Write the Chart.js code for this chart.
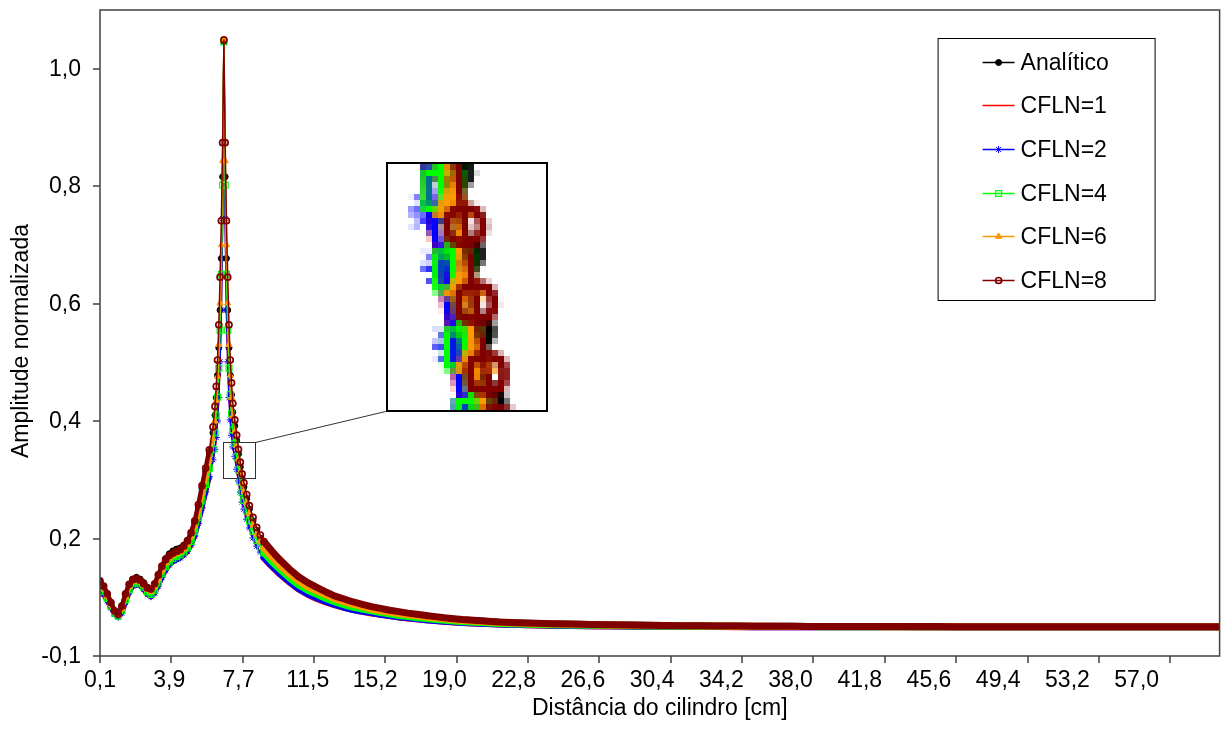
<!DOCTYPE html>
<html>
<head>
<meta charset="utf-8">
<script src="https://cdn.jsdelivr.net/npm/chart.js@4.4.1/dist/chart.umd.min.js"></script>
<style>
html,body{margin:0;padding:0;background:#fff;overflow:hidden;}
#wrap{width:1225px;height:746px;position:relative;}
</style>
</head>
<body>
<div id="wrap"><canvas id="c" width="1225" height="746"></canvas></div>
<script>
// ---------------- DATA ----------------
const distances = [
  0.1,0.3,0.5,0.7,0.9,1.1,1.3,1.5,1.7,1.9,2.1,2.3,2.5,2.7,2.9,3.1,3.3,3.5,3.7,3.9,4.1,4.3,4.5,4.7,4.9,5.1,5.3,5.5,5.7,5.9,6.1,6.3,
  6.41,6.48,6.55,6.62,6.69,6.76,6.83,6.9,6.97,7.04,7.11,7.18,7.25,7.32,7.39,
  7.5,7.6,7.7,7.8,7.9,8.0,8.15,8.3,8.5,8.7,8.9,9.1,
  9.5,10,10.5,11,11.5,12,12.5,13,13.5,14,14.5,15,15.5,16,16.5,17,17.5,18,18.5,19,19.5,20,
  21,22,23,24,25,26,27,28,29,30,31,32,33,34,35,36,37,38,39,40,
  41,42,43,44,45,46,47,48,49,50,51,52,53,54,55,56,57,58,59,60,61,62
];

const analitico = [
  0.127,0.119,0.106,0.091,0.077,0.070,0.084,0.105,0.122,0.131,0.134,0.131,0.125,0.117,0.114,0.122,0.137,0.153,0.166,0.174,0.179,0.182,0.184,0.189,0.197,0.209,0.228,0.254,0.285,0.314,0.344,0.380,
  0.410,0.440,0.478,0.525,0.589,0.677,0.816,1.046,0.816,0.677,0.589,0.525,0.478,0.445,0.415,
  0.392,0.367,0.344,0.322,0.302,0.288,0.268,0.250,0.230,0.214,0.201,0.190,
  0.176,0.159,0.145,0.132,0.122,0.114,0.107,0.100,0.095,0.090,0.086,0.082,0.079,0.0765,0.074,0.0716,0.0696,0.0677,0.0659,0.0641,0.0627,0.0613,
  0.0594,0.0576,0.0564,0.0554,0.0546,0.0540,0.0535,0.0530,0.0526,0.0522,0.0519,0.0516,0.0513,0.0511,0.0509,0.0507,0.0506,0.0505,0.0504,0.0503,
  0.0502,0.0501,0.0501,0.0501,0.0500,0.0500,0.0500,0.0500,0.0500,0.0500,0.0500,0.0500,0.0500,0.0500,0.0500,0.0500,0.0500,0.0500,0.0500,0.0500,0.0500,0.0500
];

const cfln1 = [
  0.111,0.104,0.093,0.081,0.071,0.066,0.072,0.090,0.107,0.118,0.121,0.119,0.112,0.104,0.100,0.106,0.118,0.133,0.145,0.154,0.160,0.163,0.166,0.171,0.177,0.188,0.203,0.225,0.250,0.277,0.303,0.332,
  0.350,0.370,0.398,0.437,0.497,0.585,0.740,1.043,0.740,0.585,0.497,0.437,0.400,0.374,0.354,
  0.338,0.316,0.296,0.277,0.260,0.248,0.231,0.216,0.199,0.186,0.176,0.167,
  0.154,0.139,0.126,0.114,0.105,0.098,0.092,0.087,0.083,0.079,0.076,0.073,0.071,0.069,0.0665,0.0647,0.0632,0.0617,0.0603,0.0591,0.0580,0.0570,
  0.0556,0.0545,0.0536,0.0529,0.0523,0.0519,0.0515,0.0512,0.0509,0.0507,0.0505,0.0504,0.0502,0.0501,0.0500,0.0500,0.0499,0.0499,0.0498,0.0498,
  0.0497,0.0497,0.0497,0.0496,0.0496,0.0496,0.0496,0.0496,0.0496,0.0496,0.0496,0.0496,0.0496,0.0496,0.0496,0.0496,0.0496,0.0496,0.0496,0.0496,0.0496,0.0496
];

const cfln2 = [
  0.112,0.105,0.094,0.082,0.071,0.066,0.073,0.091,0.108,0.119,0.122,0.120,0.113,0.105,0.101,0.107,0.119,0.134,0.146,0.155,0.161,0.164,0.167,0.172,0.178,0.189,0.204,0.226,0.252,0.279,0.305,0.334,
  0.352,0.372,0.400,0.440,0.501,0.589,0.745,1.044,0.745,0.589,0.501,0.440,0.402,0.376,0.356,
  0.340,0.318,0.298,0.279,0.262,0.250,0.233,0.218,0.201,0.187,0.177,0.168,
  0.155,0.140,0.127,0.115,0.106,0.099,0.093,0.088,0.083,0.079,0.076,0.074,0.071,0.069,0.0668,0.0650,0.0634,0.0619,0.0605,0.0593,0.0582,0.0572,
  0.0558,0.0546,0.0537,0.0530,0.0524,0.0520,0.0516,0.0513,0.0510,0.0508,0.0506,0.0504,0.0503,0.0502,0.0501,0.0500,0.0500,0.0499,0.0499,0.0498,
  0.0498,0.0497,0.0497,0.0497,0.0496,0.0496,0.0496,0.0496,0.0496,0.0496,0.0496,0.0496,0.0496,0.0496,0.0496,0.0496,0.0496,0.0496,0.0496,0.0496,0.0496,0.0496
];

const cfln4 = [
  0.118,0.110,0.098,0.085,0.073,0.068,0.077,0.096,0.113,0.123,0.126,0.123,0.117,0.109,0.105,0.112,0.125,0.140,0.152,0.160,0.166,0.169,0.172,0.177,0.184,0.195,0.212,0.236,0.264,0.292,0.320,0.352,
  0.380,0.410,0.441,0.490,0.555,0.650,0.802,1.046,0.802,0.650,0.555,0.490,0.445,0.413,0.385,
  0.362,0.339,0.317,0.297,0.278,0.265,0.247,0.230,0.212,0.197,0.186,0.176,
  0.162,0.147,0.133,0.121,0.112,0.105,0.098,0.092,0.087,0.083,0.080,0.077,0.074,0.0715,0.069,0.0670,0.0653,0.0637,0.0622,0.0608,0.0596,0.0585,
  0.0569,0.0555,0.0545,0.0537,0.0531,0.0526,0.0522,0.0518,0.0515,0.0512,0.0510,0.0508,0.0506,0.0505,0.0504,0.0503,0.0502,0.0501,0.0501,0.0500,
  0.0499,0.0499,0.0498,0.0498,0.0498,0.0497,0.0497,0.0497,0.0497,0.0497,0.0497,0.0497,0.0497,0.0497,0.0497,0.0497,0.0497,0.0497,0.0497,0.0497,0.0497,0.0497
];

const cfln6 = [
  0.123,0.115,0.102,0.088,0.075,0.069,0.081,0.101,0.118,0.127,0.129,0.126,0.120,0.113,0.110,0.118,0.132,0.147,0.159,0.166,0.171,0.174,0.177,0.182,0.190,0.203,0.221,0.247,0.277,0.306,0.335,0.370,
  0.400,0.435,0.476,0.530,0.601,0.700,0.843,1.048,0.843,0.700,0.601,0.530,0.478,0.440,0.408,
  0.383,0.358,0.335,0.314,0.294,0.280,0.261,0.242,0.223,0.207,0.195,0.184,
  0.170,0.154,0.140,0.128,0.118,0.111,0.104,0.097,0.092,0.088,0.084,0.080,0.077,0.075,0.0725,0.0702,0.0683,0.0665,0.0648,0.0632,0.0618,0.0605,
  0.0587,0.0570,0.0559,0.0550,0.0543,0.0537,0.0532,0.0527,0.0524,0.0520,0.0517,0.0514,0.0512,0.0510,0.0508,0.0506,0.0505,0.0504,0.0503,0.0502,
  0.0501,0.0501,0.0500,0.0500,0.0500,0.0500,0.0499,0.0499,0.0499,0.0499,0.0499,0.0499,0.0499,0.0499,0.0499,0.0499,0.0499,0.0499,0.0499,0.0499,0.0499,0.0499
];

const cfln8 = [
  0.128,0.119,0.106,0.091,0.077,0.071,0.085,0.106,0.122,0.130,0.132,0.129,0.123,0.116,0.114,0.123,0.138,0.153,0.164,0.171,0.175,0.178,0.181,0.187,0.196,0.210,0.230,0.258,0.290,0.320,0.351,0.390,
  0.425,0.459,0.504,0.564,0.645,0.741,0.874,1.049,0.874,0.741,0.645,0.564,0.504,0.465,0.430,
  0.402,0.376,0.352,0.330,0.310,0.295,0.275,0.256,0.236,0.219,0.206,0.195,
  0.180,0.163,0.148,0.135,0.125,0.117,0.109,0.102,0.097,0.092,0.088,0.084,0.081,0.078,0.0755,0.073,0.071,0.069,0.067,0.065,0.0635,0.062,
  0.0600,0.0580,0.0568,0.0558,0.0550,0.0543,0.0537,0.0532,0.0528,0.0524,0.0520,0.0517,0.0514,0.0512,0.0510,0.0508,0.0506,0.0505,0.0504,0.0503,
  0.0502,0.0502,0.0501,0.0501,0.0501,0.0501,0.0500,0.0500,0.0500,0.0500,0.0500,0.0500,0.0500,0.0500,0.0500,0.0500,0.0500,0.0500,0.0500,0.0500,0.0500,0.0500
];

const seriesNames = ['Analítico','CFLN=1','CFLN=2','CFLN=4','CFLN=6','CFLN=8'];
const yTickValues = [0, 0.2, 0.4, 0.6, 0.8, 1.0];
const yTickLabels = ['-0,1','0,2','0,4','0,6','0,8','1,0'];
const xTickLabels = ['0,1','3,9','7,7','11,5','15,2','19,0','22,8','26,6','30,4','34,2','38,0','41,8','45,6','49,4','53,2','57,0'];
const xTitle = 'Distância do cilindro [cm]';
const yTitle = 'Amplitude normalizada';

// ---------------- STYLE / LAYOUT ----------------
const X_MIN = 0.1, X_MAX = 61.55, Y_MIN = 0, Y_MAX = 1.1;
const X_TICK_MARK_STEP = 3.916;
const WING_UNTIL = 6.2;         // dense markers merge into a band on the left wing
const BAND_FROM = 9.1;          // beyond this the dense markers merge into a solid band
const ZOOM_X = [6.85, 8.59], ZOOM_Y = [0.304, 0.365];
const INSET_X = [15.87, 24.63], INSET_Y = [0.417, 0.839];
const FONT = '23px "Liberation Sans", Arial, sans-serif';

const styles = [
  {color:'#000000', point:'circle',   r:3,   fill:'#000000',        lw:1},
  {color:'#FF0000', point:null,       r:0,   fill:'#FF0000',        lw:1},
  {color:'#0000FF', point:'star',     r:3.5, fill:'#0000FF',        lw:1},
  {color:'#00FF00', point:'rect',     r:4.2, fill:'rgba(0,0,0,0)',  lw:1.2},
  {color:'#FF9900', point:'triangle', r:3.6, fill:'#FF9900',        lw:1},
  {color:'#800000', point:'circle',   r:3.0, fill:'rgba(0,0,0,0)',  lw:1.7}
];
const seriesValues = [analitico, cfln1, cfln2, cfln4, cfln6, cfln8];

const datasets = seriesNames.map((name, i) => ({
  label: name,
  data: distances.map((d, j) => ({x: d, y: seriesValues[i][j]})),
  borderColor: styles[i].color,
  backgroundColor: styles[i].color,
  borderWidth: 1.5,
  borderJoinStyle: 'round',
  borderCapStyle: 'round',
  tension: 0,
  fill: false,
  pointStyle: styles[i].point || 'circle',
  pointRadius: ctx => (styles[i].r && (!ctx.parsed || ctx.parsed.x <= BAND_FROM)) ? styles[i].r : 0,
  pointHoverRadius: 0,
  pointBackgroundColor: styles[i].fill,
  pointBorderColor: styles[i].color,
  pointBorderWidth: styles[i].lw,
  order: seriesNames.length - 1 - i,
  segment: {
    borderWidth: ctx => ctx.p0.parsed.x >= BAND_FROM ? 7 : (ctx.p1.parsed.x <= WING_UNTIL ? 4.5 : undefined)
  }
}));

function drawMarker(ctx, st, x, y) {
  if (!st.point) return;
  const r = st.r;
  ctx.save();
  ctx.lineWidth = st.lw; ctx.strokeStyle = st.color; ctx.fillStyle = st.fill;
  ctx.beginPath();
  if (st.point === 'circle') {
    ctx.arc(x, y, r, 0, Math.PI * 2); ctx.fill(); ctx.stroke();
  } else if (st.point === 'rect') {
    const s = r * Math.SQRT1_2; ctx.rect(x - s, y - s, 2 * s, 2 * s); ctx.fill(); ctx.stroke();
  } else if (st.point === 'triangle') {
    ctx.moveTo(x, y - r);
    ctx.lineTo(x + r * Math.sin(2 * Math.PI / 3), y - r * Math.cos(2 * Math.PI / 3));
    ctx.lineTo(x + r * Math.sin(4 * Math.PI / 3), y - r * Math.cos(4 * Math.PI / 3));
    ctx.closePath(); ctx.fill(); ctx.stroke();
  } else if (st.point === 'star') {
    for (let k = 0; k < 4; k++) {
      const a = k * Math.PI / 4;
      ctx.moveTo(x - r * Math.cos(a), y - r * Math.sin(a));
      ctx.lineTo(x + r * Math.cos(a), y + r * Math.sin(a));
    }
    ctx.stroke();
  }
  ctx.restore();
}

const deco = {
  id: 'deco',
  beforeDraw(chart) {
    const c = chart.ctx;
    c.save(); c.fillStyle = '#ffffff'; c.fillRect(0, 0, chart.width, chart.height); c.restore();
  },
  afterDatasetsDraw(chart) {
    const ctx = chart.ctx, xs = chart.scales.x, ys = chart.scales.y;
    const zx0 = xs.getPixelForValue(ZOOM_X[0]), zx1 = xs.getPixelForValue(ZOOM_X[1]);
    const zy0 = ys.getPixelForValue(ZOOM_Y[1]), zy1 = ys.getPixelForValue(ZOOM_Y[0]);
    const ix0 = xs.getPixelForValue(INSET_X[0]), ix1 = xs.getPixelForValue(INSET_X[1]);
    const iy0 = ys.getPixelForValue(INSET_Y[1]), iy1 = ys.getPixelForValue(INSET_Y[0]);
    const dw = ix1 - ix0, dh = iy1 - iy0, M = 6;
    const sw = dw / M, sh = dh / M;
    const cx = (zx0 + zx1) / 2, cy = (zy0 + zy1) / 2;
    const off = document.createElement('canvas');
    off.width = chart.canvas.width; off.height = chart.canvas.height;
    off.getContext('2d').drawImage(chart.canvas, 0, 0);
    ctx.save();
    ctx.fillStyle = '#ffffff';
    ctx.fillRect(ix0, iy0, dw, dh);
    ctx.imageSmoothingEnabled = false;
    ctx.drawImage(off, cx - sw / 2, cy - sh / 2, sw, sh, ix0, iy0, dw, dh);
    ctx.imageSmoothingEnabled = true;
    ctx.strokeStyle = '#333333'; ctx.lineWidth = 1;
    ctx.strokeRect(Math.round(zx0) + 0.5, Math.round(zy0) + 0.5, Math.round(zx1 - zx0), Math.round(zy1 - zy0));
    ctx.beginPath();
    ctx.moveTo(Math.round(zx1) + 0.5, Math.round(zy0) + 0.5);
    ctx.lineTo(ix0, iy1);
    ctx.stroke();
    ctx.strokeStyle = '#000000'; ctx.lineWidth = 2;
    ctx.strokeRect(Math.round(ix0), Math.round(iy0), Math.round(dw), Math.round(dh));
    ctx.restore();
  },
  afterDraw(chart) {
    const ctx = chart.ctx, xs = chart.scales.x, ys = chart.scales.y, ca = chart.chartArea;
    ctx.save();
    // plot frame / axes
    ctx.strokeStyle = '#404040'; ctx.lineWidth = 1.5;
    ctx.strokeRect(ca.left, ca.top, ca.right - ca.left, ca.bottom - ca.top);
    ctx.lineWidth = 1.5;
    ctx.fillStyle = '#000000';
    ctx.font = FONT;
    // y ticks + labels
    ctx.textAlign = 'right'; ctx.textBaseline = 'middle';
    yTickValues.forEach((v, i) => {
      const py = Math.round(ys.getPixelForValue(v));
      ctx.beginPath(); ctx.moveTo(ca.left - 7, py); ctx.lineTo(ca.left, py); ctx.stroke();
      ctx.fillText(yTickLabels[i], ca.left - 19, py + 1);
    });
    // x tick marks
    for (let v = xs.min; v <= xs.max + 1e-9; v += X_TICK_MARK_STEP) {
      const px = Math.round(xs.getPixelForValue(v));
      ctx.beginPath(); ctx.moveTo(px, ca.bottom); ctx.lineTo(px, ca.bottom + 7); ctx.stroke();
    }
    // x labels
    ctx.textAlign = 'center'; ctx.textBaseline = 'middle';
    xTickLabels.forEach(l => {
      const v = parseFloat(l.replace(',', '.'));
      ctx.fillText(l, xs.getPixelForValue(v), ca.bottom + 25);
    });
    // axis titles
    ctx.fillText(xTitle, (ca.left + ca.right) / 2, ca.bottom + 53);
    ctx.save();
    ctx.translate(22, (ca.top + ca.bottom) / 2 + 8);
    ctx.rotate(-Math.PI / 2);
    ctx.fillText(yTitle, 0, 0);
    ctx.restore();
    // legend
    const lw = 217, lh = 262;
    const lx = ca.right - 65 - lw, ly = ca.top + 28;
    ctx.fillStyle = '#ffffff';
    ctx.fillRect(lx, ly, lw, lh);
    ctx.strokeStyle = '#000000'; ctx.lineWidth = 1;
    ctx.strokeRect(lx + 0.5, ly + 0.5, lw, lh);
    ctx.textAlign = 'left'; ctx.textBaseline = 'middle';
    chart.data.datasets.forEach((ds, i) => {
      const ry = Math.round(ly + 23.7 + i * 43.6) + 0.5;
      ctx.strokeStyle = styles[i].color; ctx.lineWidth = 1.3;
      ctx.beginPath(); ctx.moveTo(lx + 45, ry); ctx.lineTo(lx + 77, ry); ctx.stroke();
      drawMarker(ctx, styles[i], lx + 61, ry);
      ctx.fillStyle = '#000000';
      ctx.fillText(ds.label, lx + 83, ry + 1);
    });
    ctx.restore();
  }
};

new Chart(document.getElementById('c'), {
  type: 'line',
  data: { datasets },
  options: {
    responsive: false,
    devicePixelRatio: 1,
    animation: false,
    events: [],
    layout: { padding: { left: 100, top: 10, right: 3, bottom: 90 } },
    plugins: { legend: { display: false }, tooltip: { enabled: false }, title: { display: false } },
    scales: {
      x: { type: 'linear', display: false, min: X_MIN, max: X_MAX },
      y: { type: 'linear', display: false, min: Y_MIN, max: Y_MAX }
    }
  },
  plugins: [deco]
});
</script>
</body>
</html>
